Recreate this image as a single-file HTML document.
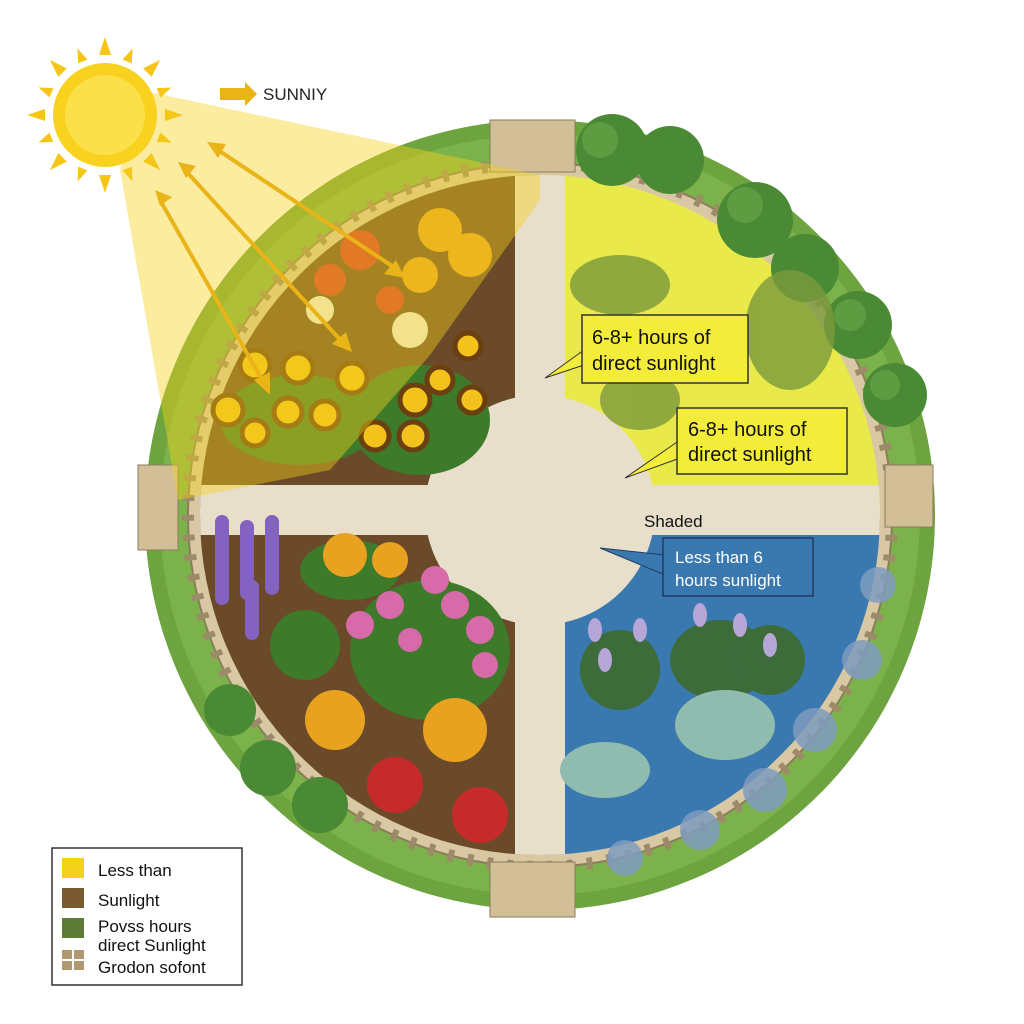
<!DOCTYPE html>
<html><head><meta charset="utf-8"><style>
html,body{margin:0;padding:0;background:#fff;width:1024px;height:1024px;overflow:hidden}
svg{display:block}
text{font-family:"Liberation Sans",sans-serif}
</style></head><body>
<svg width="1024" height="1024" viewBox="0 0 1024 1024" xmlns="http://www.w3.org/2000/svg">
<defs>
<clipPath id="disc"><circle cx="540" cy="515" r="340"/></clipPath>
</defs>
<rect width="1024" height="1024" fill="#fff"/>
<circle cx="540" cy="515" r="395" fill="#6ea440"/>
<circle cx="540" cy="515" r="380" fill="#7cb24b"/>
<circle cx="540" cy="515" r="352" fill="#d9c8a4" stroke="#8c7b5c" stroke-width="2"/>
<circle cx="540" cy="515" r="352" fill="none" stroke="#9c8a68" stroke-width="12" stroke-dasharray="6 14"/>
<g clip-path="url(#disc)">
<rect x="180" y="170" width="360" height="345" fill="#6b4a2a"/>
<rect x="540" y="170" width="360" height="345" fill="#e9e94a"/>
<rect x="180" y="515" width="360" height="360" fill="#6b4a2a"/>
<rect x="540" y="515" width="360" height="360" fill="#3a79b0"/>
<rect x="515" y="160" width="50" height="720" fill="#e8dfca"/>
<rect x="170" y="485" width="740" height="50" fill="#e8dfca"/>
<circle cx="540" cy="510" r="115" fill="#e8dfca"/>
</g>
<rect x="490" y="120" width="85" height="52" fill="#d2bf98" stroke="#8c7b5c"/>
<rect x="490" y="862" width="85" height="55" fill="#d2bf98" stroke="#8c7b5c"/>
<rect x="138" y="465" width="40" height="85" fill="#d2bf98" stroke="#8c7b5c"/>
<rect x="885" y="465" width="48" height="62" fill="#d2bf98" stroke="#8c7b5c"/>
<g fill="#4a8a35">
<circle cx="612" cy="150" r="36"/><circle cx="670" cy="160" r="34"/><circle cx="755" cy="220" r="38"/>
<circle cx="805" cy="268" r="34"/><circle cx="858" cy="325" r="34"/><circle cx="895" cy="395" r="32"/>
<circle cx="230" cy="710" r="26"/><circle cx="268" cy="768" r="28"/><circle cx="320" cy="805" r="28"/>
</g>
<g fill="#6aa84a" opacity="0.6">
<circle cx="600" cy="140" r="18"/><circle cx="745" cy="205" r="18"/><circle cx="850" cy="315" r="16"/><circle cx="885" cy="385" r="15"/>
</g>
<g fill="#7f9cc0" opacity="0.85">
<circle cx="878" cy="585" r="18"/><circle cx="862" cy="660" r="20"/><circle cx="815" cy="730" r="22"/>
<circle cx="765" cy="790" r="22"/><circle cx="700" cy="830" r="20"/><circle cx="625" cy="858" r="18"/>
</g>
<g>
<g fill="#e8a220"><circle cx="440" cy="230" r="22"/><circle cx="470" cy="255" r="22"/><circle cx="420" cy="275" r="18"/></g>
<g fill="#d5392b"><circle cx="360" cy="250" r="20"/><circle cx="330" cy="280" r="16"/><circle cx="390" cy="300" r="14"/></g>
<g fill="#f2eedc"><circle cx="410" cy="330" r="18"/><circle cx="320" cy="310" r="14"/></g>
<g fill="#3d7a2a"><ellipse cx="300" cy="420" rx="80" ry="45"/><ellipse cx="420" cy="420" rx="70" ry="55"/></g>
<g fill="#f3c21c" stroke="#6b3f10" stroke-width="5">
<circle cx="255" cy="365" r="15"/><circle cx="298" cy="368" r="15"/><circle cx="352" cy="378" r="15"/>
<circle cx="228" cy="410" r="15"/><circle cx="288" cy="412" r="14"/><circle cx="325" cy="415" r="14"/>
<circle cx="255" cy="433" r="13"/><circle cx="415" cy="400" r="15"/><circle cx="440" cy="380" r="13"/>
<circle cx="468" cy="346" r="13"/><circle cx="375" cy="436" r="14"/><circle cx="413" cy="436" r="14"/><circle cx="472" cy="400" r="13"/>
</g>
</g>
<g fill="#7a9a3c" opacity="0.8"><ellipse cx="620" cy="285" rx="50" ry="30"/><ellipse cx="640" cy="400" rx="40" ry="30"/><ellipse cx="790" cy="330" rx="45" ry="60"/></g>
<g>
<g fill="#8462c0"><rect x="215" y="515" width="14" height="90" rx="7"/><rect x="240" y="520" width="14" height="80" rx="7"/><rect x="265" y="515" width="14" height="80" rx="7"/><rect x="245" y="580" width="14" height="60" rx="7"/></g>
<g fill="#3d7a2a"><ellipse cx="305" cy="645" rx="35" ry="35"/><ellipse cx="430" cy="650" rx="80" ry="70"/><ellipse cx="350" cy="570" rx="50" ry="30"/></g>
<g fill="#e8a220"><circle cx="345" cy="555" r="22"/><circle cx="390" cy="560" r="18"/><circle cx="335" cy="720" r="30"/><circle cx="455" cy="730" r="32"/></g>
<g fill="#d76aa8"><circle cx="435" cy="580" r="14"/><circle cx="390" cy="605" r="14"/><circle cx="455" cy="605" r="14"/><circle cx="480" cy="630" r="14"/><circle cx="360" cy="625" r="14"/><circle cx="410" cy="640" r="12"/><circle cx="485" cy="665" r="13"/></g>
<g fill="#c62b2b"><circle cx="395" cy="785" r="28"/><circle cx="480" cy="815" r="28"/></g>
</g>
<g>
<g fill="#3d6b3a"><ellipse cx="620" cy="670" rx="40" ry="40"/><ellipse cx="720" cy="660" rx="50" ry="40"/><ellipse cx="770" cy="660" rx="35" ry="35"/></g>
<g fill="#b7a6d8"><ellipse cx="595" cy="630" rx="7" ry="12"/><ellipse cx="640" cy="630" rx="7" ry="12"/><ellipse cx="700" cy="615" rx="7" ry="12"/><ellipse cx="740" cy="625" rx="7" ry="12"/><ellipse cx="770" cy="645" rx="7" ry="12"/><ellipse cx="605" cy="660" rx="7" ry="12"/></g>
<g fill="#8fbcae"><ellipse cx="605" cy="770" rx="45" ry="28"/><ellipse cx="725" cy="725" rx="50" ry="35"/></g>
</g>
<polygon points="140,90 540,175 540,200 430,355 330,470 178,500 120,170" fill="#f5d21a" opacity="0.42"/>
<g transform="translate(105,115)">
<g fill="#f5c518">
<polygon points="-6,-60 6,-60 0,-78"/><polygon points="-6,60 6,60 0,78"/><polygon points="-60,-6 -60,6 -78,0"/><polygon points="60,-6 60,6 78,0"/>
<g transform="rotate(45)"><polygon points="-6,-60 6,-60 0,-78"/><polygon points="-6,60 6,60 0,78"/><polygon points="-60,-6 -60,6 -78,0"/><polygon points="60,-6 60,6 78,0"/></g>
<g transform="rotate(22.5)"><polygon points="-5,-58 5,-58 0,-72"/><polygon points="-5,58 5,58 0,72"/><polygon points="-58,-5 -58,5 -72,0"/><polygon points="58,-5 58,5 72,0"/></g>
<g transform="rotate(67.5)"><polygon points="-5,-58 5,-58 0,-72"/><polygon points="-5,58 5,58 0,72"/><polygon points="-58,-5 -58,5 -72,0"/><polygon points="58,-5 58,5 72,0"/></g>
</g>
<circle r="52" fill="#f8d21e"/><circle r="40" fill="#fbe04a"/>
</g>
<g stroke="#e8b417" stroke-width="4" fill="#e8b417">
<line x1="215" y1="148" x2="398" y2="270"/><line x1="185" y1="170" x2="345" y2="345"/><line x1="160" y1="200" x2="265" y2="385"/>
<polygon points="405,278 384,274 396,260" stroke="none"/><polygon points="352,352 332,344 346,332" stroke="none"/><polygon points="270,395 254,380 270,372" stroke="none"/>
<polygon points="207,142 226,144 218,158" stroke="none"/><polygon points="178,162 196,166 186,178" stroke="none"/><polygon points="155,190 172,197 160,206" stroke="none"/>
</g>
<polygon points="220,88 245,88 245,82 257,94 245,106 245,100 220,100" fill="#e8b417"/>
<text x="263" y="100" font-size="17" fill="#222">SUNNIY</text>
<polygon points="584,350 545,378 584,365" fill="#f3ec3a" stroke="#333"/>
<rect x="582" y="315" width="166" height="68" fill="#f3ec3a" stroke="#333" stroke-width="1.5"/>
<text x="592" y="344" font-size="20" fill="#111">6-8+ hours of</text>
<text x="592" y="370" font-size="20" fill="#111">direct sunlight</text>
<polygon points="680,440 625,478 680,458" fill="#f3ec3a" stroke="#333"/>
<rect x="677" y="408" width="170" height="66" fill="#f3ec3a" stroke="#333" stroke-width="1.5"/>
<text x="688" y="436" font-size="20" fill="#111">6-8+ hours of</text>
<text x="688" y="461" font-size="20" fill="#111">direct sunlight</text>
<text x="644" y="527" font-size="17" fill="#111">Shaded</text>
<polygon points="665,555 600,548 665,575" fill="#3a79b0" stroke="#1f3e60"/>
<rect x="663" y="538" width="150" height="58" fill="#3a79b0" stroke="#1f3e60" stroke-width="1.5"/>
<text x="675" y="563" font-size="17" fill="#fff">Less than 6</text>
<text x="675" y="586" font-size="17" fill="#fff">hours sunlight</text>
<rect x="52" y="848" width="190" height="137" fill="#fff" stroke="#333" stroke-width="1.5"/>
<rect x="62" y="858" width="22" height="20" fill="#f5d21a"/>
<rect x="62" y="888" width="22" height="20" fill="#7a5a30"/>
<rect x="62" y="918" width="22" height="20" fill="#5d7a35"/>
<g fill="#b09870"><rect x="62" y="950" width="10" height="9"/><rect x="74" y="950" width="10" height="9"/><rect x="62" y="961" width="10" height="9"/><rect x="74" y="961" width="10" height="9"/></g>
<g font-size="17" fill="#111">
<text x="98" y="876">Less than</text>
<text x="98" y="906">Sunlight</text>
<text x="98" y="932">Povss hours</text>
<text x="98" y="951">direct Sunlight</text>
<text x="98" y="973">Grodon sofont</text>
</g>
</svg>
</body></html>
